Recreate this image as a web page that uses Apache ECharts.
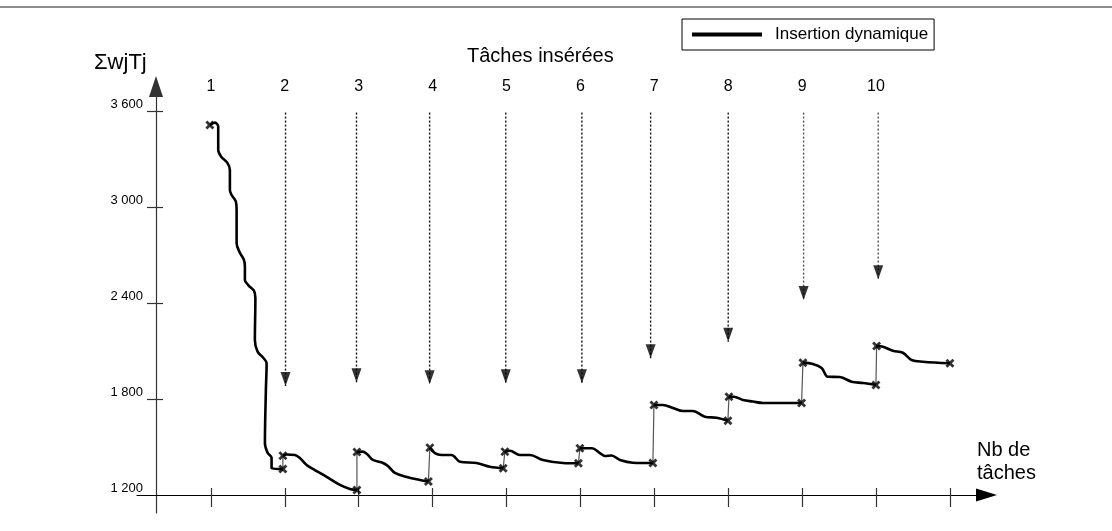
<!DOCTYPE html>
<html>
<head>
<meta charset="utf-8">
<script src="https://cdn.jsdelivr.net/npm/echarts@6/dist/echarts.min.js"></script>
<style>
html,body{margin:0;padding:0;background:#fff;}
#chart{width:1112px;height:531px;}
</style>
</head>
<body>
<div id="chart"></div>
<script>
// ---- data (x = number of tasks, y = ΣwjTj) ----
const xTickValues = [1, 2, 3, 4, 5, 6, 7, 8, 9, 10, 11];
const taskLabels = [1, 2, 3, 4, 5, 6, 7, 8, 9, 10];
const yTickValues = [1800, 2400, 3000, 3600];
const yLabelValues = [1200, 1800, 2400, 3000, 3600];

const seg1 = [[0.986,3512],[1.054,3527],[1.099,3502],[1.099,3356],[1.145,3311],[1.221,3277],[1.257,3231],[1.257,3106],[1.280,3075],[1.338,3033],[1.348,2981],[1.348,2773],[1.392,2714],[1.447,2669],[1.460,2627],[1.460,2544],[1.505,2512],[1.582,2477],[1.602,2431],[1.595,2169],[1.632,2096],[1.708,2058],[1.754,2023],[1.744,1856],[1.731,1523],[1.767,1464],[1.821,1433],[1.821,1367],[1.974,1362]];
const seg2 = [[1.974,1446],[2.028,1453],[2.137,1450],[2.204,1431],[2.295,1388],[2.407,1356],[2.566,1313],[2.746,1263],[2.881,1238],[2.976,1231]];
const seg3 = [[2.976,1469],[3.057,1471],[3.125,1450],[3.192,1419],[3.314,1403],[3.395,1381],[3.49,1338],[3.652,1313],[3.828,1294],[3.943,1284]];
const seg4 = [[3.963,1496],[4.031,1462],[4.122,1450],[4.257,1450],[4.37,1408],[4.595,1400],[4.775,1377],[4.955,1367]];
const seg5 = [[4.978,1471],[5.046,1477],[5.181,1450],[5.317,1450],[5.493,1419],[5.763,1400],[5.973,1398]];
const seg6 = [[5.993,1492],[6.156,1492],[6.264,1462],[6.332,1444],[6.422,1447],[6.535,1419],[6.71,1402],[6.981,1400]];
const seg7 = [[6.995,1762],[7.117,1762],[7.252,1744],[7.387,1725],[7.522,1725],[7.685,1689],[7.843,1683],[7.996,1664]];
const seg8 = [[8.01,1814],[8.077,1814],[8.199,1794],[8.334,1784],[8.47,1775],[8.993,1775]];
const seg9 = [[9.011,2027],[9.146,2019],[9.264,1994],[9.349,1939],[9.511,1937],[9.67,1908],[9.823,1900],[9.999,1888]];
const seg10 = [[10.008,2131],[10.093,2127],[10.228,2102],[10.364,2089],[10.481,2044],[10.634,2033],[11.0,2023]];

const arrowX = [2.01, 2.97, 3.96, 4.99, 6.02, 6.95, 8.0, 9.02, 10.03];
const arrowTip = [1881, 1904, 1892, 1898, 1898, 2054, 2158, 2419, 2548];
const arrowTop = 3590;

// ---- build ----
const segments = [seg1, seg2, seg3, seg4, seg5, seg6, seg7, seg8, seg9, seg10];
const markers = [segments[0][0]];
segments.forEach(s => markers.push(s[s.length - 1]));
for (let i = 1; i < segments.length; i++) markers.push(segments[i][0]);

const FONT = 'Liberation Sans, Arial, Helvetica, sans-serif';
const X_MIN = 0, X_MAX = 11.495, Y_MIN = 1087.5, Y_MAX = 3753;
const fmt = v => String(v).replace(/\B(?=(\d{3})+(?!\d))/g, ' ');

const series = [];
segments.forEach(s => {
  series.push({
    name: 'Insertion dynamique', type: 'line', data: s, smooth: 0.35,
    symbol: 'none', lineStyle: { color: '#000', width: 2.6 }, itemStyle: { color: '#000' },
    z: 5, silent: true
  });
});
for (let i = 1; i < segments.length; i++) {
  const a = segments[i - 1][segments[i - 1].length - 1];
  const b = segments[i][0];
  series.push({
    type: 'line', data: [a, b], symbol: 'none',
    lineStyle: { color: '#555', width: 1.2 }, z: 4, silent: true
  });
}
arrowX.forEach((x, i) => {
  series.push({
    type: 'line', data: [[x, arrowTop], [x, arrowTip[i]]], symbol: 'none',
    lineStyle: { color: i >= 7 ? '#555' : '#111', width: 1.4, type: [2, 2] }, z: 3, silent: true
  });
});
series.push({
  type: 'scatter', data: arrowX.map((x, i) => [x, arrowTip[i]]),
  symbol: 'path://M0,0L10,0L5,14Z', symbolSize: [10, 14], symbolOffset: [0, '-50%'],
  itemStyle: { color: '#000' }, z: 6, silent: true
});
series.push({
  type: 'scatter', data: markers,
  symbol: 'path://M0,2.2L2.2,0L5,2.8L7.8,0L10,2.2L7.2,5L10,7.8L7.8,10L5,7.2L2.2,10L0,7.8L2.8,5Z',
  symbolSize: 9, itemStyle: { color: '#000' }, z: 7, silent: true
});

const chart = echarts.init(document.getElementById('chart'), null, { renderer: 'canvas' });
chart.setOption({
  animation: false,
  backgroundColor: '#fff',
  textStyle: { fontFamily: FONT },
  title: [
    { text: 'ΣwjTj', left: 94, top: 52, padding: 0, textStyle: { fontFamily: FONT, fontSize: 22, fontWeight: 'normal', color: '#000' } },
    { text: 'Tâches insérées', left: 467, top: 46, padding: 0, textStyle: { fontFamily: FONT, fontSize: 20, fontWeight: 'normal', color: '#000' } },
    { text: 'Nb de\ntâches', left: 977, top: 439, padding: 0, textStyle: { fontFamily: FONT, fontSize: 20, lineHeight: 23, fontWeight: 'normal', color: '#000' } }
  ],
  legend: {
    data: [{ name: 'Insertion dynamique', icon: 'rect' }],
    left: 682, top: 19, itemWidth: 70, itemHeight: 4,
    padding: [7, 6, 7, 10], borderColor: '#000', borderWidth: 1,
    selectedMode: false,
    textStyle: { fontFamily: FONT, fontSize: 17, color: '#000', padding: [0, 0, 0, 8] }
  },
  graphic: [
    { type: 'line', shape: { x1: 0, y1: 7, x2: 1112, y2: 7 }, style: { stroke: '#666', lineWidth: 1.5 } }
  ],
  grid: { left: 137, right: 125.5, top: 86.5, bottom: 18, containLabel: false },
  xAxis: [
    {
      type: 'value', position: 'bottom', min: X_MIN, max: X_MAX, offset: -18,
      axisLine: { show: true, onZero: false, symbol: ['none', 'triangle'], symbolSize: [13, 21], lineStyle: { color: '#000', width: 1.2 } },
      axisTick: { show: true, customValues: xTickValues, length: 12, lineStyle: { color: '#333', width: 1.2 } },
      axisLabel: { show: false }, splitLine: { show: false }
    },
    {
      type: 'value', position: 'bottom', min: X_MIN, max: X_MAX, offset: -18,
      axisLine: { show: false, onZero: false },
      axisTick: { show: true, inside: true, customValues: xTickValues, length: 7, lineStyle: { color: '#333', width: 1.2 } },
      axisLabel: { show: false }, splitLine: { show: false }
    },
    {
      type: 'value', position: 'top', min: X_MIN, max: X_MAX, offset: -8,
      axisLine: { show: false, onZero: false }, axisTick: { show: false },
      axisLabel: { show: true, customValues: taskLabels, margin: 0, fontFamily: FONT, fontSize: 16, color: '#000' },
      splitLine: { show: false }
    }
  ],
  yAxis: [
    {
      type: 'value', position: 'left', min: Y_MIN, max: Y_MAX, offset: -19,
      axisLine: { show: true, onZero: false, symbol: ['none', 'triangle'], symbolSize: [14, 21], lineStyle: { color: '#333', width: 1.2 } },
      axisTick: { show: true, customValues: yTickValues, length: 9, lineStyle: { color: '#333', width: 1.2 } },
      axisLabel: { show: true, customValues: yLabelValues, formatter: fmt, margin: 13, verticalAlign: 'bottom', fontFamily: FONT, fontSize: 13, color: '#000' },
      splitLine: { show: false }
    },
    {
      type: 'value', position: 'left', min: Y_MIN, max: Y_MAX, offset: -19,
      axisLine: { show: false, onZero: false },
      axisTick: { show: true, inside: true, customValues: yTickValues, length: 7, lineStyle: { color: '#333', width: 1.2 } },
      axisLabel: { show: false }, splitLine: { show: false }
    }
  ],
  series: series
});
</script>
</body>
</html>
